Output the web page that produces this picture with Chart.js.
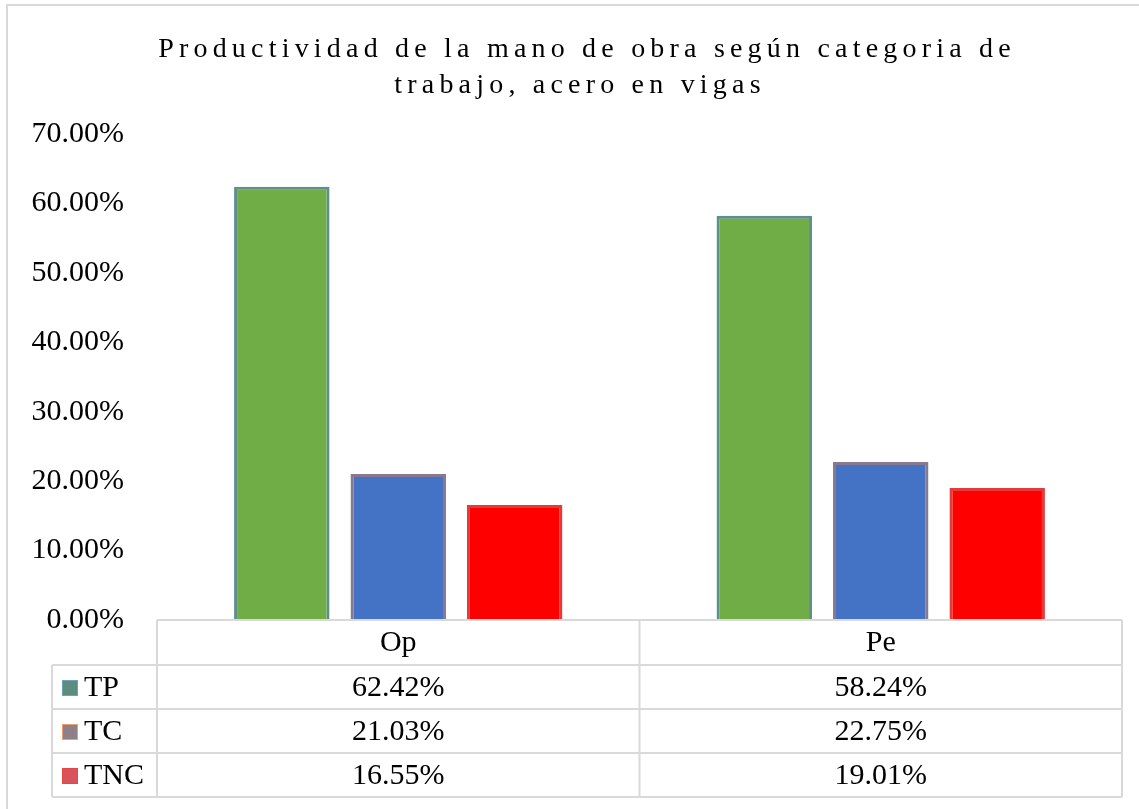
<!DOCTYPE html>
<html>
<head>
<meta charset="utf-8">
<script src="https://cdn.jsdelivr.net/npm/chart.js@4"></script>
<style>
  html, body { margin: 0; padding: 0; background: #fff; }
  #wrap { width: 1139px; height: 809px; position: relative; }
</style>
</head>
<body>
<div id="wrap"><canvas id="chart"></canvas></div>
<script>
// datos del grafico
const titleLines = ['Productividad de la mano de obra según categoria de', 'trabajo, acero en vigas'];
const categories = ['Op', 'Pe'];
const seriesNames = ['TP', 'TC', 'TNC'];
const tpValues = [62.42, 58.24];
const tcValues = [21.03, 22.75];
const tncValues = [16.55, 19.01];
const yTicks = [0, 10, 20, 30, 40, 50, 60, 70];

const FONT = "'Liberation Serif', 'Times New Roman', serif";
const fills = ['#70ad47', '#4472c4', '#ff0000'];
const edges = ['#5f8f8c', '#8a7890', '#e53a3a'];
const keyFills = ['#5b8d7e', '#8f7f86', '#d9545a'];
const keyEdges = ['#6f9fbf', '#e9a070', '#e84545'];
const lineCol = '#d9d9d9';

function fmt(v) { return v.toFixed(2) + '%'; }

// titulo con espaciado entre letras
const titlePlugin = {
  id: 'titleSpaced',
  afterDraw(chart) {
    const ctx = chart.ctx;
    ctx.save();
    // borde exterior
    ctx.strokeStyle = lineCol;
    ctx.lineWidth = 2;
    ctx.strokeRect(7, 5, 1300, 1000);
    ctx.fillStyle = '#000';
    ctx.font = '28px ' + FONT;
    ctx.letterSpacing = '5.2px';
    ctx.textAlign = 'center';
    ctx.textBaseline = 'middle';
    ctx.fillText(titleLines[0], 587, 50);
    ctx.fillText(titleLines[1], 580, 86);
    ctx.restore();
  }
};

// tabla de datos bajo el grafico
const tablePlugin = {
  id: 'dataTable',
  afterDraw(chart) {
    const ctx = chart.ctx;
    const x = chart.scales.x;
    const left = chart.chartArea.left, right = chart.chartArea.right;
    const catW = (right - left) / categories.length;
    const rows = [620, 665, 709, 753, 797];
    const keyLeft = 52;
    const series = [tpValues, tcValues, tncValues];
    ctx.save();
    ctx.strokeStyle = lineCol;
    ctx.lineWidth = 2;
    ctx.beginPath();
    // horizontales
    ctx.moveTo(left, rows[0]); ctx.lineTo(right, rows[0]);
    for (let r = 1; r < rows.length; r++) {
      ctx.moveTo(keyLeft, rows[r]); ctx.lineTo(right, rows[r]);
    }
    // verticales
    ctx.moveTo(keyLeft, rows[1]); ctx.lineTo(keyLeft, rows[4]);
    for (let c = 0; c <= categories.length; c++) {
      const cx = left + c * catW;
      ctx.moveTo(cx, rows[0]); ctx.lineTo(cx, rows[4]);
    }
    ctx.stroke();

    ctx.fillStyle = '#000';
    ctx.font = '30px ' + FONT;
    ctx.textBaseline = 'middle';
    ctx.textAlign = 'center';
    categories.forEach((c, i) => {
      ctx.fillText(c, x.getPixelForValue(i), (rows[0] + rows[1]) / 2 + 1);
    });
    series.forEach((vals, s) => {
      const cy = (rows[s + 1] + rows[s + 2]) / 2 + 1;
      vals.forEach((v, i) => {
        ctx.fillStyle = '#000';
        ctx.textAlign = 'center';
        ctx.fillText(fmt(v), x.getPixelForValue(i), cy);
      });
      // clave de leyenda
      ctx.fillStyle = keyFills[s];
      ctx.fillRect(62, cy - 8, 16, 16);
      ctx.strokeStyle = keyEdges[s];
      ctx.lineWidth = 1;
      ctx.strokeRect(62.5, cy - 7.5, 15, 15);
      ctx.fillStyle = '#000';
      ctx.textAlign = 'left';
      ctx.fillText(seriesNames[s], 84, cy);
    });
    ctx.restore();
  }
};

const valueSets = [tpValues, tcValues, tncValues];
new Chart(document.getElementById('chart'), {
  type: 'bar',
  data: {
    labels: categories,
    datasets: seriesNames.map((name, i) => ({
      label: name,
      data: valueSets[i],
      backgroundColor: fills[i],
      borderColor: edges[i],
      borderWidth: 3,
      categoryPercentage: 0.724,
      barPercentage: 0.82
    }))
  },
  options: {
    responsive: true,
    maintainAspectRatio: false,
    animation: false,
    layout: { padding: { top: 134, right: 17, bottom: 189, left: 0 } },
    plugins: {
      legend: { display: false },
      title: { display: false },
      tooltip: { enabled: false }
    },
    scales: {
      x: { display: false },
      y: {
        min: 0,
        max: 70,
        afterFit(s) { s.width = 157; },
        afterBuildTicks(s) { s.ticks = yTicks.map(v => ({ value: v })); },
        grid: { display: false, drawTicks: false },
        border: { display: false },
        ticks: {
          padding: 33,
          color: '#000',
          font: { family: FONT, size: 30 },
          callback: v => fmt(v)
        }
      }
    }
  },
  plugins: [titlePlugin, tablePlugin]
});
</script>
</body>
</html>
